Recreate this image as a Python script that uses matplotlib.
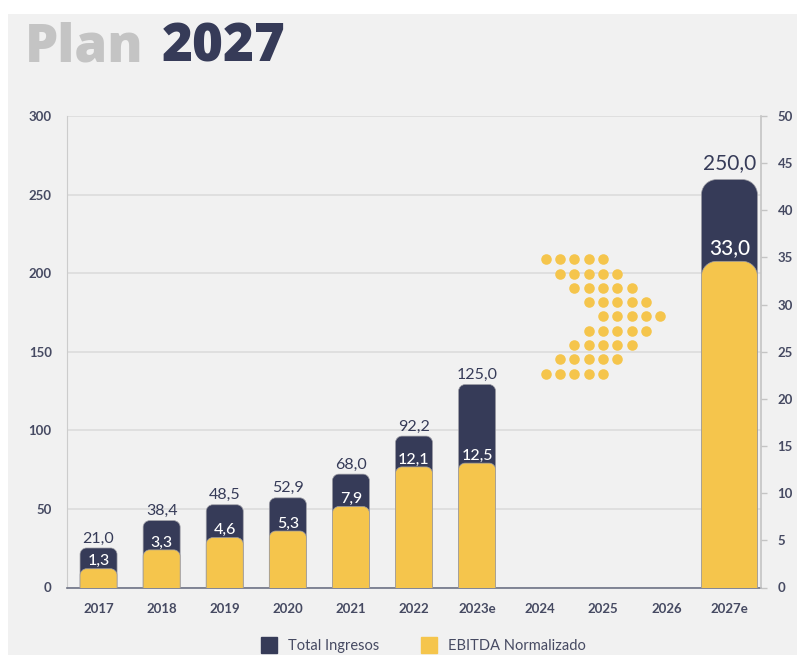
import numpy as np
import matplotlib.pyplot as plt
from matplotlib.path import Path
from matplotlib.patches import PathPatch, Rectangle
from matplotlib.lines import Line2D

# Data
years = ["2017", "2018", "2019", "2020", "2021", "2022", "2023e",
         "2024", "2025", "2026", "2027e"]
ingresos = [21.0, 38.4, 48.5, 52.9, 68.0, 92.2, 125.0, None, None, None, 250.0]
ebitda = [1.3, 3.3, 4.6, 5.3, 7.9, 12.1, 12.5, None, None, None, 33.0]
ingresos_lbl = ["21,0", "38,4", "48,5", "52,9", "68,0", "92,2", "125,0", "", "", "", "250,0"]
ebitda_lbl = ["1,3", "3,3", "4,6", "5,3", "7,9", "12,1", "12,5", "", "", "", "33,0"]

NAVY = "#363b58"
YELLOW = "#f5c54c"
BG = "#f1f1f1"
TXT = "#464a62"

W, H = 797, 655
fig = plt.figure(figsize=(W / 100, H / 100), dpi=100, facecolor="white")
fig.patches.append(Rectangle((8 / W, 0), 1, 1 - 14 / H, transform=fig.transFigure,
                             facecolor=BG, edgecolor="none", zorder=-10))

ax_pos = [67 / W, (H - 587.5) / H, (761 - 67) / W, (587.5 - 116) / H]
ax = fig.add_axes(ax_pos)
ax.set_facecolor("none")
ax2 = ax.twinx()

xlim = (-0.5, 10.5)
ax.set_xlim(*xlim)
ax.set_ylim(0, 300)
ax2.set_ylim(0, 50)

px_x = W * ax_pos[2] / (xlim[1] - xlim[0])
px_y1 = H * ax_pos[3] / 300
px_y2 = H * ax_pos[3] / 50
K = 0.5523


def rounded_bar(axis, x, width, value, r_px, px_y, color):
    rx = r_px / px_x
    ry = r_px / px_y
    x0, x1 = x - width / 2, x + width / 2
    v = value
    verts = [(x0, -5), (x0, v), (x0, v + K * ry), (x0 + rx - K * rx, v + ry), (x0 + rx, v + ry),
             (x1 - rx, v + ry), (x1 - rx + K * rx, v + ry), (x1, v + K * ry), (x1, v),
             (x1, -5), (x0, -5)]
    codes = [Path.MOVETO, Path.LINETO, Path.CURVE4, Path.CURVE4, Path.CURVE4,
             Path.LINETO, Path.CURVE4, Path.CURVE4, Path.CURVE4, Path.LINETO, Path.CLOSEPOLY]
    axis.add_patch(PathPatch(Path(verts, codes), facecolor=color, edgecolor="#9c9ca4",
                             lw=0.5, zorder=3))
    return v + ry


for i, y in enumerate(years):
    if ingresos[i] is None:
        continue
    big = y == "2027e"
    w = 56 / px_x if big else 37 / px_x
    r = 15 if big else 6.5
    top1 = rounded_bar(ax, i, w, ingresos[i], r, px_y1, NAVY)
    top2 = rounded_bar(ax2, i, w, ebitda[i], r, px_y2, YELLOW)
    fs = 15 if big else 11.5
    ax2.annotate(ingresos_lbl[i], (i, top1 * 50 / 300), xytext=(0, 7.5 if big else 4),
                 textcoords="offset points", ha="center", va="baseline",
                 fontsize=fs, color=NAVY, family="Lato", zorder=5)
    ax2.annotate(ebitda_lbl[i], (i, top2), xytext=(0, 5.5 if big else 2.5),
                 textcoords="offset points", ha="center", va="baseline",
                 fontsize=fs, color="white", family="Lato", fontweight="medium", zorder=5)

# dotted chevron arrow
offsets = [0, 1, 2, 3, 4, 3, 2, 1, 0]
dx, dy = 0.2266, 9.09
x_start, y_start = 7.09, 208.8
for row, off in enumerate(offsets):
    xs = x_start + (off + np.arange(5)) * dx
    ys = np.full(5, y_start - row * dy)
    ax.plot(xs, ys, "o", color=YELLOW, markersize=7.6, markeredgewidth=0, zorder=4)

# axes styling
ax.set_xticks(range(len(years)))
ax.set_xticklabels(years)
ax.set_yticks(range(0, 301, 50))
ax2.set_yticks(range(0, 51, 5))
ax.yaxis.grid(True, color="#dcdcdc", lw=1.2, zorder=0)
ax.set_axisbelow(True)
for a in (ax, ax2):
    a.spines["top"].set_visible(False)
ax.spines["left"].set_color("#cccccc")
ax.spines["right"].set_visible(False)
ax2.spines["left"].set_visible(False)
ax2.spines["bottom"].set_visible(False)
ax2.spines["right"].set_color("#c4c4c4")
ax2.spines["right"].set_linewidth(1.2)
ax.spines["bottom"].set_color("#6e7285")
ax.spines["bottom"].set_linewidth(1.2)
ax.tick_params(axis="y", length=0, pad=11, labelsize=9.5, labelcolor=TXT)
ax.tick_params(axis="x", length=0, pad=11, labelsize=9.5, labelcolor=TXT)
ax2.tick_params(axis="y", length=4, width=1, color="#c4c4c4", pad=8,
                labelsize=9.5, labelcolor=TXT)
for lab in ax.get_xticklabels() + ax.get_yticklabels() + ax2.get_yticklabels():
    lab.set_fontfamily("Lato")
    lab.set_fontweight("bold")

# title
fig.text(25 / W, 1 - 61 / H, "Plan", fontsize=38, fontweight=800, color="#c4c4c4",
         family="Open Sans", va="baseline")
fig.text(162 / W, 1 - 61 / H, "2027", fontsize=38, fontweight=800, color=NAVY,
         family="Open Sans", va="baseline")

# legend
handles = [Line2D([], [], marker="s", ls="", color=NAVY, markersize=11),
           Line2D([], [], marker="s", ls="", color=YELLOW, markersize=11)]
fig.legend(handles, ["Total Ingresos", "EBITDA Normalizado"], loc="center",
           bbox_to_anchor=(0.527, 0.014), ncol=2, frameon=False, handletextpad=0.3,
           columnspacing=2.4, prop={"family": "Lato", "size": 10.5}, labelcolor=TXT,
           borderpad=0.1)

fig.savefig("out.png", dpi=100)
